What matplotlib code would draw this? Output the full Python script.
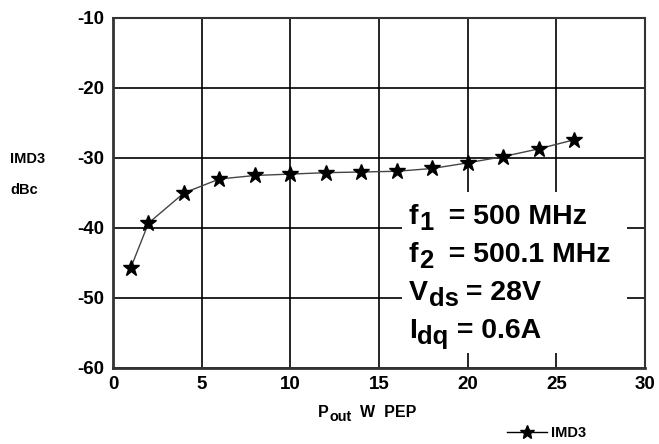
import matplotlib
matplotlib.use("Agg")
import matplotlib.pyplot as plt
from matplotlib.lines import Line2D

plt.rcParams['font.family'] = ['Liberation Sans', 'DejaVu Sans']
plt.rcParams['font.weight'] = 'bold'
plt.rcParams['axes.unicode_minus'] = False

# output power, W PEP
pout = [1, 2, 4, 6, 8, 10, 12, 14, 16, 18, 20, 22, 24, 26]
# third order intermod, dBc
imd3 = [-45.7, -39.3, -35.0, -33.0, -32.5, -32.3, -32.1, -32.0,
        -31.9, -31.5, -30.7, -29.8, -28.7, -27.4]

x_ticks = [0, 5, 10, 15, 20, 25, 30]
y_ticks = [-60, -50, -40, -30, -20, -10]

# conditions box: (main, subscript, rest)
conditions = [
    ("f", "1", "  = 500 MHz"),
    ("f", "2", "  = 500.1 MHz"),
    ("V", "ds", " = 28V"),
    ("I", "dq", " = 0.6A"),
]

fig = plt.figure(figsize=(6.59, 4.44), dpi=100)
ax = fig.add_axes([0.1715, 0.1712, 0.8073, 0.7883])

ax.plot(pout, imd3, color="#444444", lw=1.0, marker="*", ms=12,
        mfc="black", mec="black", zorder=3)

ax.set_xlim(0, 30)
ax.set_ylim(-60, -10)
ax.set_xticks(x_ticks)
ax.set_yticks(y_ticks)
ax.tick_params(length=0, labelsize=13.5, pad=6)
for lab in ax.get_xticklabels() + ax.get_yticklabels():
    lab.set_fontweight("bold")
ax.grid(True, color="black", lw=1.2)
ax.set_axisbelow(True)
for side in ["left", "bottom"]:
    ax.spines[side].set_linewidth(2.0)
    ax.spines[side].set_color("#333333")
for side in ["top", "right"]:
    ax.spines[side].set_linewidth(1.5)
    ax.spines[side].set_color("#333333")

# white patch behind the conditions text
ax.add_patch(plt.Rectangle((16.3, -57.9), 12.7, 23.0, facecolor="white",
                           edgecolor="none", zorder=2))


def sub_text(x, y, main, sub, rest, fs, transform, drop=4):
    # main letter, lowered subscript, then the rest back on the baseline
    t1 = fig.text(x, y, main, transform=transform, fontsize=fs,
                  fontweight="bold", va="bottom", zorder=4)
    t2 = ax.annotate(sub, xy=(1, 0), xycoords=t1, xytext=(0.5, -drop),
                     textcoords="offset points", fontsize=fs * 0.9,
                     fontweight="bold", va="bottom", zorder=4,
                     annotation_clip=False)
    ax.annotate(rest, xy=(1, 0), xycoords=t2, xytext=(0, drop),
                textcoords="offset points", fontsize=fs,
                fontweight="bold", va="bottom", zorder=4,
                annotation_clip=False)


fs = 20.5
y0 = 0.395
dy = 0.1086
for i, (main, sub, rest) in enumerate(conditions):
    sub_text(0.556, y0 - i * dy, main, sub, rest, fs, ax.transAxes)

# x label with subscript
sub_text(0.482, 0.055, "P", "out", "  W  PEP", 11.5, fig.transFigure, drop=3)

# y label
fig.text(0.015, 0.643, "IMD3", fontsize=10.5, fontweight="bold", va="center")
fig.text(0.015, 0.571, "dBc", fontsize=10.5, fontweight="bold", va="center")

handle = Line2D([], [], color="black", lw=1.0, marker="*", ms=10,
                mfc="black", mec="black")
fig.legend([handle], ["IMD3"], loc="center left",
           bbox_to_anchor=(0.758, 0.025), frameon=False,
           prop={"size": 10.5, "weight": "bold"}, handlelength=2.75,
           handletextpad=0.3, borderpad=0)

fig.savefig("out.png", dpi=100)
